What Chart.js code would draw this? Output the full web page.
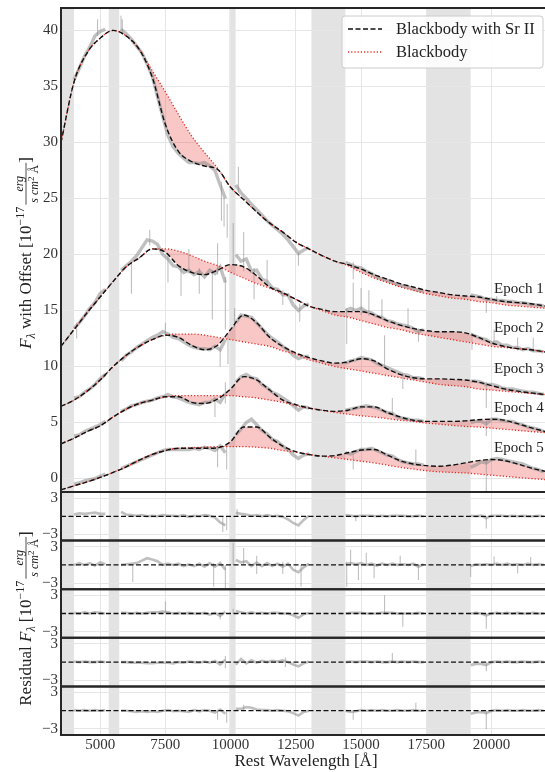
<!DOCTYPE html>
<html lang="en">
<head>
<meta charset="UTF-8">
<title>Blackbody fits with Sr II</title>
<script src="https://cdn.jsdelivr.net/npm/chart.js@4.4.1/dist/chart.umd.min.js"></script>
<style>
  html, body { margin: 0; padding: 0; background: #fff; }
  #wrap { width: 545px; height: 772px; }
</style>
</head>
<body>
<div id="wrap"><canvas id="chart" width="545" height="772"></canvas></div>
<script>
// wavelength grid of the model curves (Angstrom)
const modelWave = [3500,4000,4500,5000,5500,6000,6500,7000,7500,8000,8500,9000,9500,10000,10500,11000,11500,12000,12500,13000,
  13500,14000,14500,15000,15500,16000,16500,17000,17500,18000,18500,19000,19500,20000,20500,21000,21500,22050];

// blackbody + Sr II fits (black dashed), offsets included
const sr1 = [30.0,35.4,38.0,39.3,40.0,39.5,38.3,35.8,31.6,29.2,28.3,27.9,27.6,26.0,24.9,23.8,22.8,22.0,21.1,20.5,
  19.9,19.4,19.1,18.7,18.2,17.8,17.4,17.1,16.8,16.6,16.4,16.3,16.2,16.0,15.8,15.7,15.6,15.4];
const sr2 = [11.8,13.3,14.8,16.2,17.6,18.9,19.7,20.5,20.2,19.0,18.4,18.2,18.6,19.1,18.9,18.1,17.1,16.6,16.0,15.4,
  15.1,14.9,14.9,14.9,14.6,14.1,13.7,13.4,13.2,13.1,13.1,13.0,12.6,12.1,11.8,11.6,11.5,11.3];
const sr3 = [6.45,7.0,7.8,8.8,10.0,11.0,11.8,12.4,12.8,12.6,11.9,11.5,11.9,13.3,14.6,13.9,12.6,11.8,11.2,10.8,
  10.5,10.3,10.4,10.7,10.5,9.8,9.3,9.0,8.9,8.9,8.85,8.8,8.6,8.3,8.0,7.8,7.65,7.5];
const sr4 = [3.1,3.6,4.2,4.7,5.5,6.2,6.7,7.0,7.3,7.3,6.8,6.7,7.1,8.0,9.1,8.8,7.9,7.0,6.6,6.3,
  6.1,6.0,6.1,6.4,6.4,5.9,5.5,5.2,5.1,5.1,5.1,5.15,5.25,5.3,5.2,4.9,4.55,4.2];
const sr5 = [-1.0,-0.65,-0.3,0.1,0.55,1.05,1.65,2.15,2.5,2.7,2.7,2.7,2.75,3.3,4.6,4.6,3.7,2.9,2.4,2.15,
  2.0,2.05,2.3,2.55,2.6,2.1,1.6,1.3,1.15,1.1,1.2,1.4,1.6,1.7,1.6,1.3,0.95,0.65];

// pure blackbody fits (red dotted)
const bb1 = [30.0,35.4,38.0,39.3,40.0,39.5,38.3,36.4,34.5,32.5,30.6,29.1,27.7,26.0,24.9,23.8,22.8,22.0,21.1,20.5,
  19.9,19.4,19.0,18.4,17.9,17.5,17.1,16.8,16.5,16.3,16.1,16.0,15.8,15.7,15.5,15.4,15.3,15.2];
const bb2 = [11.8,13.3,14.8,16.2,17.6,18.9,19.7,20.5,20.5,20.3,19.9,19.4,19.0,18.4,17.9,17.4,17.0,16.5,16.0,15.4,
  15.0,14.6,14.4,14.1,13.8,13.5,13.3,13.0,12.8,12.6,12.4,12.2,12.0,11.8,11.7,11.6,11.5,11.3];
const bb3 = [6.45,7.0,7.8,8.8,10.0,11.0,11.8,12.4,12.8,12.9,12.9,12.8,12.6,12.4,12.2,12.0,11.8,11.4,11.1,10.6,
  10.3,10.0,9.8,9.6,9.4,9.2,9.0,8.8,8.6,8.4,8.3,8.2,8.0,7.9,7.8,7.7,7.6,7.5];
const bb4 = [3.1,3.6,4.2,4.7,5.5,6.2,6.7,7.0,7.3,7.4,7.4,7.4,7.4,7.4,7.3,7.2,7.0,6.8,6.5,6.3,
  6.1,5.9,5.75,5.6,5.5,5.35,5.2,5.1,4.95,4.85,4.75,4.65,4.6,4.5,4.4,4.3,4.2,4.1];
const bb5 = [-1.0,-0.65,-0.3,0.1,0.55,1.05,1.65,2.15,2.5,2.7,2.75,2.8,2.85,2.85,2.85,2.8,2.7,2.5,2.35,2.15,
  2.0,1.85,1.7,1.55,1.4,1.2,1.0,0.85,0.7,0.6,0.55,0.5,0.4,0.3,0.2,0.1,0.0,-0.1];

// observed spectra grid (null = masked telluric region)
const obsWave = [4000,4200,4400,4600,4800,5000,5200,5500,
  5800,6000,6200,6400,6600,6800,7000,7200,7400,7600,7800,8000,8200,8400,8600,8800,9000,9200,9400,9600,9800,10000,
  10200,10400,10600,10800,11000,11200,11400,11600,11800,12000,12200,12400,12600,12800,13000,13700,
  14400,14600,14800,15000,15200,15400,15600,15800,16000,16200,16400,16600,16800,17000,17200,17400,18300,
  19200,19400,19600,19800,20000,20200,20400,20600,20800,21000,21200,21400,21600,21800,22000];

const obs1 = [35.6,36.6,37.7,38.5,39.5,39.9,40.1,null,
  40.1,39.7,39.2,38.6,38.0,37.0,35.9,34.1,32.3,30.6,29.6,29.0,28.6,28.2,28.2,28.1,28.2,27.9,27.5,26.2,25.0,null,
  26.2,25.5,25.0,24.5,24.0,23.5,23.0,22.6,22.2,21.8,21.3,20.7,20.1,20.4,20.6,null,
  19.3,19.1,18.9,18.8,18.5,18.3,18.0,17.8,17.7,17.5,17.3,17.2,17.1,16.9,16.8,16.7,null,
  16.4,16.3,16.2,16.0,16.0,15.9,15.9,15.8,15.8,15.7,15.7,15.6,15.5,15.5,15.4];
const obs2 = [13.4,13.9,14.5,15.2,15.7,16.5,16.9,null,
  18.6,19.0,19.4,19.9,20.6,21.3,21.2,20.9,20.0,19.6,19.0,18.9,18.4,18.6,18.2,18.5,18.0,18.6,18.3,18.9,17.5,null,
  20.0,19.4,19.6,18.5,18.6,17.8,17.6,17.0,16.9,16.4,16.4,15.5,15.0,15.4,15.6,null,
  15.0,15.2,15.0,15.2,14.9,14.8,14.5,14.4,14.1,14.0,13.8,13.7,13.6,13.4,13.1,13.3,null,
  12.9,12.7,12.5,12.4,12.1,12.2,11.9,11.9,11.7,11.7,11.5,11.6,11.4,11.4,11.3];
const obs3 = [7.2,7.3,7.7,8.0,8.4,8.9,9.3,null,
  10.5,11.0,11.3,11.7,12.0,12.3,12.6,12.8,13.1,12.9,12.6,12.5,12.2,11.9,11.7,11.6,11.6,11.5,11.8,11.5,12.4,null,
  13.9,14.6,14.5,14.4,13.9,13.4,12.9,12.5,12.2,11.8,11.5,11.0,10.7,10.9,10.9,null,
  10.3,10.5,10.6,10.8,10.7,10.6,10.3,10.1,9.9,9.7,9.5,9.3,9.2,9.0,9.0,8.9,null,
  8.7,8.7,8.6,8.4,8.4,8.3,8.1,8.0,8.0,7.9,7.8,7.7,7.7,7.6,7.5];
const obs4 = [3.8,3.9,4.2,4.4,4.6,4.8,5.1,null,
  6.0,6.2,6.5,6.6,6.8,6.9,7.0,7.2,7.3,7.5,7.3,7.2,7.0,6.8,6.7,6.6,6.8,6.8,7.1,6.8,7.6,null,
  8.6,9.1,9.3,9.0,8.9,8.4,8.1,7.7,7.5,7.2,6.9,6.5,6.1,6.4,6.3,null,
  6.1,6.2,6.3,6.4,6.5,6.4,6.3,6.1,5.9,5.8,5.5,5.4,5.3,5.2,5.2,5.1,null,
  5.0,5.1,5.1,4.9,5.3,5.3,5.2,5.1,5.1,4.9,4.8,4.6,4.5,4.4,4.2];
const obs5 = [-0.5,-0.4,-0.2,-0.1,0.0,0.2,0.4,null,
  0.9,1.1,1.3,1.5,1.7,1.9,2.1,2.3,2.5,2.6,2.6,2.6,2.6,2.6,2.7,2.6,2.8,2.7,2.5,2.9,2.3,null,
  3.9,4.4,5.0,5.3,4.8,4.3,4.0,3.5,3.3,2.9,2.6,2.1,1.8,2.1,2.2,null,
  2.3,2.2,2.4,2.6,2.6,2.7,2.5,2.3,2.1,2.0,1.7,1.5,1.4,1.3,1.3,1.2,null,
  1.0,1.2,1.5,1.4,1.7,1.8,1.7,1.6,1.5,1.4,1.3,1.1,0.9,0.8,0.6];

// narrow noise spikes in the observed spectra: [wavelength, low, high]
const spikes1 = [[4900,39.5,41.0],[5800,40.0,41.3],[5850,39.6,41.0],[9650,23.0,26.5],[9750,22.5,25.0],[9870,21.5,24.5],
  [10300,25.5,27.8],[12600,19.0,20.2],[14700,17.8,19.3],[19800,14.8,16.2],[20200,15.6,16.3]];
const spikes2 = [[4100,12.5,13.9],[6200,16.5,19.2],[6900,20.8,22.2],[7600,17.5,20.0],[8100,16.3,19.0],[8400,18.3,20.5],
  [8800,16.5,18.8],[9300,14.2,18.6],[9500,18.2,21.0],[9800,13.3,18.0],[10100,19.0,22.8],[10500,18.5,22.0],
  [10900,16.0,18.8],[11400,17.4,19.5],[12000,15.5,16.8],[12650,14.0,15.6],[14450,12.0,15.2],[14700,15.0,17.5],
  [15000,14.6,17.0],[15300,14.5,16.8],[15800,14.2,16.0],[16800,13.5,15.2],[17200,12.2,13.4],[19250,11.5,13.0],
  [20100,12.0,13.3],[21000,11.4,12.6],[21600,11.3,12.6]];
const spikes3 = [[7500,12.8,13.9],[9600,10.0,11.7],[9900,10.2,12.9],[10150,13.5,15.2],[15900,10.0,12.8],[16600,8.0,9.4],[19800,6.3,8.6]];
const spikes4 = [[9400,5.5,7.2],[9800,6.7,8.6],[16200,5.8,7.2],[19800,3.8,5.2]];
const spikes5 = [[9500,1.0,2.8],[9850,0.8,3.0],[14700,0.8,2.2],[17100,1.3,2.6],[19800,-1.2,1.6]];

// residuals (observed - Sr II fit)
const res1 = [0.3,0.5,0.4,0.5,0.6,0.4,0.4,null,
  0.7,0.3,0.2,0.1,0.2,0.0,0.1,0.0,0.2,0.1,0.1,0.0,0.2,-0.1,0.1,0.0,0.2,0.1,-0.2,-1.0,-1.5,null,
  0.6,0.4,0.3,0.1,0.2,0.0,0.2,0.0,0.1,-0.1,-0.5,-1.1,-1.5,-0.6,0.1,null,
  0.2,0.1,0.0,0.1,0.1,0.1,0.0,0.1,0.0,0.1,0.1,0.1,0.0,0.0,0.1,0.0,null,
  0.1,0.0,0.1,-0.3,0.1,0.1,0.1,0.0,0.1,0.0,0.1,0.0,0.0,0.1,0.0];
const res2 = [0.0,0.3,0.0,0.3,-0.1,0.4,0.1,null,
  0.0,0.1,0.2,0.3,0.7,1.1,0.9,0.6,0.0,0.2,0.0,0.2,-0.2,0.1,-0.2,0.2,-0.3,0.3,-0.3,0.3,-0.8,null,
  0.8,0.4,0.6,-0.2,0.4,-0.2,0.3,-0.2,0.2,-0.3,0.2,-0.8,-1.2,-0.4,0.2,null,
  0.1,0.3,0.1,0.3,0.0,0.2,-0.1,0.2,0.0,0.2,0.0,0.1,0.0,0.2,-0.3,0.1,null,
  -0.2,0.1,0.0,0.1,0.0,0.2,0.0,0.2,0.0,0.1,0.0,0.2,0.0,0.1,0.0];
const res3 = [0.1,0.0,0.2,0.0,0.2,0.1,0.0,null,
  0.1,0.1,0.0,0.1,0.0,0.1,0.2,0.2,0.3,0.2,0.0,0.1,0.0,0.1,0.0,0.0,0.1,-0.2,0.1,-0.4,0.3,null,
  0.4,0.2,0.0,0.2,0.0,0.1,0.0,0.1,0.1,0.0,0.0,-0.3,-0.7,-0.1,0.1,null,
  0.0,0.1,0.1,0.1,0.0,0.0,0.0,0.1,0.1,0.1,0.0,0.0,0.0,0.0,0.1,0.0,null,
  0.0,0.1,0.0,-0.3,0.0,0.1,0.0,0.1,0.0,0.1,0.0,0.0,0.1,0.0,0.0];
const res4 = [0.1,0.0,0.1,0.0,0.0,0.1,0.0,null,
  0.0,0.0,-0.1,-0.1,-0.1,-0.2,-0.2,-0.1,-0.1,-0.1,-0.2,0.0,-0.1,0.1,0.0,-0.1,0.1,-0.1,0.2,-0.4,0.4,null,
  -0.4,0.5,-0.2,0.3,-0.1,0.2,0.0,0.2,0.1,0.3,0.0,-0.4,-0.7,-0.2,0.1,null,
  0.0,0.1,0.0,0.1,0.1,0.0,0.1,0.0,0.0,0.1,0.0,0.1,0.0,0.1,0.0,0.0,null,
  -0.5,-0.3,-0.3,-0.5,0.0,0.1,0.0,0.1,0.0,0.0,0.1,0.0,0.0,0.1,0.0];
const res5 = [0.1,0.0,0.1,0.0,0.1,0.0,0.1,null,
  0.0,0.0,-0.1,-0.2,-0.1,-0.2,-0.1,-0.2,0.0,0.1,-0.1,0.0,-0.1,-0.2,0.1,-0.1,0.1,0.0,-0.3,0.2,-0.5,null,
  0.3,0.3,0.6,0.5,0.2,0.1,0.1,0.0,0.1,0.0,-0.1,-0.4,-0.8,-0.2,0.0,null,
  0.0,-0.2,-0.1,0.1,0.0,0.1,0.0,0.1,0.0,0.0,0.1,0.0,0.0,0.1,0.0,0.0,null,
  -0.5,-0.3,-0.2,-0.4,0.0,0.1,0.0,0.1,0.0,0.0,0.1,0.0,0.0,0.1,0.0];

// narrow spikes in the residuals: [wavelength, low, high]
const resSpikes1 = [[9700,-2.6,0],[9850,-2.3,0],[10250,0,1.2],[14800,-0.8,0],[19800,-2.0,0]];
const resSpikes2 = [[6250,-2.8,0],[9350,-3.6,0.3],[9800,-3.8,0],[10100,0,3.6],[10500,0,2.8],[11000,-1.5,1.5],
  [12000,-1.5,0.5],[12700,-3.6,0],[14450,-3.6,0.5],[14600,0,2.5],[14900,-2.5,0],[15200,0,2.0],[15500,-2.2,0],
  [16500,0,1.5],[17200,-2.5,0],[19200,-2.0,0],[20100,0,1.4],[21000,-1.4,0],[21500,0,1.3]];
const resSpikes3 = [[7500,0,2.0],[9600,-1.0,0],[10100,0,0.8],[15900,0,3.0],[16600,-2.2,0],[19800,-2.5,0]];
const resSpikes4 = [[9800,-1.0,1.0],[12100,-0.8,0.8],[16200,0,1.5],[19800,-1.5,0]];
const resSpikes5 = [[9500,-1.5,0],[9850,-2.0,0],[10500,0,1.0],[14700,-1.5,0],[17100,0,1.3],[19800,-3.0,0]];

// masked wavelength ranges (grey bands)
const bands = [[3500,4000],[5330,5730],[9950,10190],[13100,14400],[17500,19200]];

const xRange = [3500, 22050];
const xTicks = [5000,7500,10000,12500,15000,17500,20000];
const yRange = [-1.2, 42];
const yTicks = [0,5,10,15,20,25,30,35,40];
const resRange = [-4, 4];
const resTicks = [-3, 3];
const zeroLine = [0, 0];

const epochNames = ['Epoch 1','Epoch 2','Epoch 3','Epoch 4','Epoch 5'];
const epochLabelX = 20100;
const epochLabelY = [16.9, 13.4, 9.8, 6.3, 2.7];

const serif = "'Liberation Serif', 'DejaVu Serif', serif";
const RED = '#e8281f';
const PINK = 'rgba(240, 70, 70, 0.3)';
const GREY = 'rgba(140, 140, 140, 0.55)';
const GRID = '#e6e6e6';

const srFits = [sr1, sr2, sr3, sr4, sr5];
const bbFits = [bb1, bb2, bb3, bb4, bb5];
const observed = [obs1, obs2, obs3, obs4, obs5];
const obsSpikes = [spikes1, spikes2, spikes3, spikes4, spikes5];
const residuals = [res1, res2, res3, res4, res5];
const residualSpikes = [resSpikes1, resSpikes2, resSpikes3, resSpikes4, resSpikes5];
const resAxes = ['r1', 'r2', 'r3', 'r4', 'r5'];

function pts(xs, ys) {
    return xs.map((x, i) => ({ x: x, y: ys[i] }));
}

// each spike becomes a vertical segment, separated by a gap
function spikePts(list) {
    const out = [];
    list.forEach(s => {
        out.push({ x: s[0], y: s[1] }, { x: s[0], y: s[2] }, { x: s[0], y: null });
    });
    return out;
}

const datasets = [];
srFits.forEach((sr, i) => {
    const blackIdx = datasets.length;
    datasets.push({
        label: 'Blackbody with Sr II', data: pts(modelWave, sr), yAxisID: 'y',
        borderColor: '#111', borderWidth: 1.4, borderDash: [5, 2.5],
        pointRadius: 0, cubicInterpolationMode: 'monotone', fill: false, order: 1
    });
    datasets.push({
        label: 'Blackbody', data: pts(modelWave, bbFits[i]), yAxisID: 'y',
        borderColor: RED, borderWidth: 1.3, borderDash: [1.2, 2],
        pointRadius: 0, cubicInterpolationMode: 'monotone',
        fill: { target: blackIdx, above: PINK, below: PINK }, order: 2
    });
    datasets.push({
        label: 'Observed', data: pts(obsWave, observed[i]), yAxisID: 'y',
        borderColor: GREY, borderWidth: 3.4, pointRadius: 0, spanGaps: false, fill: false, order: 3
    });
    datasets.push({
        label: 'Observed spikes', data: spikePts(obsSpikes[i]), yAxisID: 'y',
        borderColor: GREY, borderWidth: 1.1, pointRadius: 0, spanGaps: false, fill: false, order: 3
    });
    datasets.push({
        label: 'Residual', data: pts(obsWave, residuals[i]), yAxisID: resAxes[i],
        borderColor: GREY, borderWidth: 2.6, pointRadius: 0, spanGaps: false, fill: false, order: 3
    });
    datasets.push({
        label: 'Residual spikes', data: spikePts(residualSpikes[i]), yAxisID: resAxes[i],
        borderColor: GREY, borderWidth: 1.1, pointRadius: 0, spanGaps: false, fill: false, order: 3
    });
    datasets.push({
        label: 'Zero', data: pts(xRange, zeroLine), yAxisID: resAxes[i],
        borderColor: '#111', borderWidth: 1.3, borderDash: [5, 2.5], pointRadius: 0, fill: false, order: 1
    });
});

const tickFont = { family: serif, size: 15 };

function noPad(s) {
    s.paddingTop = 0; s.paddingBottom = 0; s.paddingLeft = 0; s.paddingRight = 0;
}

const scales = {
    x: {
        type: 'linear', position: 'bottom', min: xRange[0], max: xRange[1],
        afterBuildTicks: s => { s.ticks = xTicks.map(v => ({ value: v })); },
        ticks: { font: tickFont, color: '#333', padding: 1, maxRotation: 0, autoSkip: false, callback: v => String(v) },
        grid: { color: GRID, drawTicks: false },
        border: { display: false },
        afterFit: s => { s.height = 37; noPad(s); }
    },
    y: {
        type: 'linear', position: 'left', stack: 'panels', stackWeight: 484, weight: 6,
        min: yRange[0], max: yRange[1],
        afterBuildTicks: s => { s.ticks = yTicks.map(v => ({ value: v })); },
        ticks: { font: tickFont, color: '#333', padding: 3, callback: v => String(v) },
        grid: { color: GRID, drawTicks: false },
        border: { display: false },
        afterFit: s => { s.width = 61; noPad(s); }
    }
};
resAxes.forEach((id, i) => {
    scales[id] = {
        type: 'linear', position: 'left', stack: 'panels', stackWeight: 48.6, weight: 5 - i,
        min: resRange[0], max: resRange[1],
        afterBuildTicks: s => { s.ticks = resTicks.map(v => ({ value: v })); },
        ticks: { font: tickFont, color: '#333', padding: 3, callback: v => (v < 0 ? '\u2212' + Math.abs(v) : String(v)) },
        grid: { color: GRID, drawTicks: false },
        border: { display: false },
        afterFit: s => { s.width = 61; noPad(s); }
    };
});

// y label with the flux unit written as a small fraction
function drawFluxLabel(ctx, before, after, cx, cy) {
    const big = 17, small = 12, tiny = 9;
    const font = (size, italic) => (italic ? 'italic ' : '') + size + 'px ' + serif;
    const runs = [
        { t: before, f: font(big, false), dy: 0 },
        { t: 'F', f: font(big, true), dy: 0 },
        { t: '\u03bb', f: font(small, true), dy: 4 },
        { t: after + ' [10', f: font(big, false), dy: 0 },
        { t: '\u221217', f: font(small, false), dy: -7 }
    ];
    runs.forEach(r => { ctx.font = r.f; r.w = ctx.measureText(r.t).width; });
    ctx.font = font(small, true);
    const wNum = ctx.measureText('erg').width;
    const wS = ctx.measureText('s cm').width;
    ctx.font = font(tiny, false);
    const w2 = ctx.measureText('2').width;
    ctx.font = font(small, false);
    const wA = ctx.measureText(' \u00c5').width;
    const wDen = wS + w2 + wA;
    const wFrac = Math.max(wNum, wDen) + 4;
    ctx.font = font(big, false);
    const wClose = ctx.measureText(']').width;
    const total = runs.reduce((a, r) => a + r.w, 0) + wFrac + wClose + 2;

    ctx.save();
    ctx.translate(cx, cy);
    ctx.rotate(-Math.PI / 2);
    ctx.fillStyle = '#222';
    ctx.textAlign = 'left';
    ctx.textBaseline = 'alphabetic';
    let x = -total / 2;
    runs.forEach(r => { ctx.font = r.f; ctx.fillText(r.t, x, r.dy); x += r.w; });
    x += 2;
    ctx.font = font(small, true);
    ctx.fillText('erg', x + (wFrac - wNum) / 2, -8);
    ctx.strokeStyle = '#222';
    ctx.lineWidth = 0.8;
    ctx.beginPath();
    ctx.moveTo(x, -5);
    ctx.lineTo(x + wFrac, -5);
    ctx.stroke();
    let dx = x + (wFrac - wDen) / 2;
    ctx.fillText('s cm', dx, 7);
    dx += wS;
    ctx.font = font(tiny, false);
    ctx.fillText('2', dx, 3);
    dx += w2;
    ctx.font = font(small, false);
    ctx.fillText(' \u00c5', dx, 7);
    x += wFrac;
    ctx.font = font(big, false);
    ctx.fillText(']', x, 0);
    ctx.restore();
}

const decorations = {
    id: 'decorations',
    beforeDraw(chart) {
        const { ctx, chartArea: a } = chart;
        const xs = chart.scales.x;
        ctx.save();
        ctx.fillStyle = 'rgba(200, 200, 200, 0.5)';
        bands.forEach(b => {
            const x0 = Math.max(a.left, xs.getPixelForValue(b[0]));
            const x1 = Math.min(a.right, xs.getPixelForValue(b[1]));
            ctx.fillRect(x0, a.top, x1 - x0, a.bottom - a.top);
        });
        ctx.restore();
    },
    afterDraw(chart) {
        const { ctx, chartArea: a } = chart;
        const xs = chart.scales.x;
        const ys = chart.scales.y;
        ctx.save();

        // panel frames
        ctx.strokeStyle = '#262626';
        ctx.lineWidth = 2;
        ['y'].concat(resAxes).forEach(id => {
            const s = chart.scales[id];
            ctx.beginPath();
            ctx.moveTo(a.right, s.top);
            ctx.lineTo(a.left, s.top);
            ctx.lineTo(a.left, s.bottom);
            ctx.lineTo(a.right, s.bottom);
            ctx.stroke();
        });

        // epoch labels
        ctx.fillStyle = '#222';
        ctx.font = '15px ' + serif;
        ctx.textAlign = 'left';
        ctx.textBaseline = 'middle';
        epochNames.forEach((name, i) => {
            ctx.fillText(name, xs.getPixelForValue(epochLabelX), ys.getPixelForValue(epochLabelY[i]));
        });

        // legend
        const lx = a.right - 203, ly = a.top + 8, lw = 201, lh = 52;
        ctx.fillStyle = 'rgba(255,255,255,0.85)';
        ctx.strokeStyle = '#cccccc';
        ctx.lineWidth = 1;
        ctx.beginPath();
        ctx.roundRect(lx, ly, lw, lh, 3);
        ctx.fill();
        ctx.stroke();
        [datasets[0], datasets[1]].forEach((ds, i) => {
            const yy = ly + 13 + i * 23;
            ctx.strokeStyle = ds.borderColor;
            ctx.lineWidth = ds.borderWidth;
            ctx.setLineDash(ds.borderDash);
            ctx.beginPath();
            ctx.moveTo(lx + 6, yy);
            ctx.lineTo(lx + 40, yy);
            ctx.stroke();
            ctx.setLineDash([]);
            ctx.fillStyle = '#222';
            ctx.font = '16.5px ' + serif;
            ctx.textBaseline = 'middle';
            ctx.fillText(ds.label, lx + 54, yy + 1);
        });

        // axis titles
        ctx.fillStyle = '#222';
        ctx.font = '17px ' + serif;
        ctx.textAlign = 'center';
        ctx.textBaseline = 'middle';
        ctx.fillText('Rest Wavelength [\u00c5]', (a.left + a.right) / 2 + 3, a.bottom + 27);

        drawFluxLabel(ctx, '', ' with Offset', 31, (ys.top + ys.bottom) / 2 + 3);
        const r1 = chart.scales.r1, r5 = chart.scales.r5;
        drawFluxLabel(ctx, 'Residual ', '', 31, (r1.top + r5.bottom) / 2 + 5);
        ctx.restore();
    }
};

new Chart(document.getElementById('chart'), {
    type: 'line',
    data: { datasets: datasets },
    options: {
        responsive: false,
        maintainAspectRatio: false,
        devicePixelRatio: 1,
        animation: false,
        events: [],
        layout: { autoPadding: false, padding: { top: 8, left: 0, right: 0, bottom: 0 } },
        plugins: {
            legend: { display: false },
            tooltip: { enabled: false },
            filler: { drawTime: 'beforeDatasetsDraw' }
        },
        scales: scales
    },
    plugins: [decorations]
});
</script>
</body>
</html>
